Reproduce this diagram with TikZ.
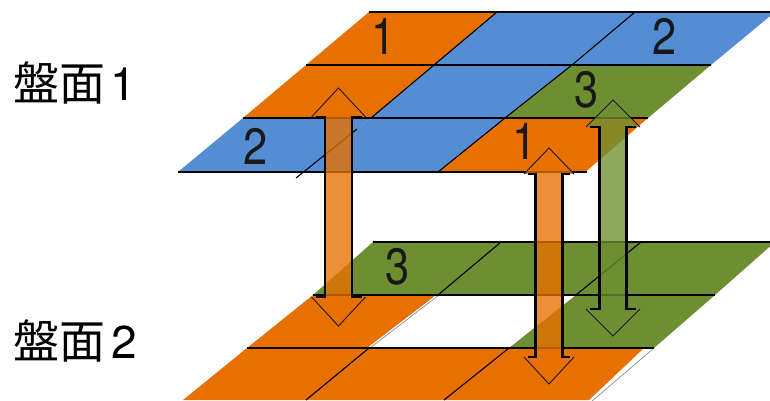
\documentclass[tikz,border=0pt]{standalone}
\usepackage{graphicx}
\usepackage{fontspec}
\setmainfont{TeX Gyre Heros}
\newfontfamily\cjk{Noto Sans CJK JP}
\definecolor{cOrange}{HTML}{E87000}
\definecolor{cBlue}{HTML}{548DD4}
\definecolor{cGreen}{HTML}{6E8F31}
\tikzset{
  cell/.style={fill=#1,draw=none},
  hline/.style={draw=black,line width=1.8pt},
  dline/.style={draw=black,line width=1.1pt},
  eline/.style={draw=black!45,line width=0.7pt},
  num/.style={font=\fontsize{51}{51}\selectfont,inner sep=0pt,text=black!90},
  title/.style={font=\fontsize{46}{46}\selectfont,inner sep=0pt,anchor=base west},
  afill/.style={fill=#1,fill opacity=0.78,draw=none},
  ahead/.style={draw=black!90,line width=0.9pt,line join=miter},
  ashaft/.style={draw=black,line width=2.2pt}
}
\newcommand{\narrowdigit}[1]{\scalebox{0.85}[1]{#1}}
% centre x, half shaft, half head, top tip, top base, bottom base, bottom tip, colour
\newcommand{\twowayarrow}[8]{%
  \path[afill=#8] (#1,#4) -- (#1+#3,#5) -- (#1+#2,#5) -- (#1+#2,#6) -- (#1+#3,#6) -- (#1,#7)
     -- (#1-#3,#6) -- (#1-#2,#6) -- (#1-#2,#5) -- (#1-#3,#5) -- cycle;
  \draw[ahead] (#1-#3,#5) -- (#1,#4) -- (#1+#3,#5);
  \draw[ahead] (#1-#3,#6) -- (#1,#7) -- (#1+#3,#6);
  \draw[ashaft] (#1-#3+4,#5) -- (#1-#2,#5) -- (#1-#2,#6) -- (#1-#3+4,#6);
  \draw[ashaft] (#1+#3-4,#5) -- (#1+#2,#5) -- (#1+#2,#6) -- (#1+#3-4,#6);
}
\begin{document}
\begin{tikzpicture}[x=1pt,y=-1pt]
\useasboundingbox (0,0) rectangle (770,401);
\clip (0,0) rectangle (770,401);
% ---- upper board
\path[cell=cOrange] (369,12) -- (497,12) -- (434,65) -- (306,65) -- cycle;
\path[cell=cBlue] (497,12) -- (635,12) -- (572,65) -- (434,65) -- cycle;
\path[cell=cBlue] (635,12) -- (775,12) -- (711,65) -- (572,65) -- cycle;
\path[cell=cOrange] (306,65) -- (434,65) -- (371,118) -- (243,118) -- cycle;
\path[cell=cBlue] (434,65) -- (572,65) -- (505,118) -- (371,118) -- cycle;
\path[cell=cGreen] (572,65) -- (711,65) -- (648,118) -- (505,118) -- cycle;
\path[cell=cBlue] (243,118) -- (371,118) -- (302,172) -- (178,172) -- cycle;
\path[cell=cBlue] (371,118) -- (505,118) -- (438,172) -- (302,172) -- cycle;
\path[cell=cOrange] (505,118) -- (648,118) -- (590,168) -- (585,172) -- (438,172) -- cycle;
\draw[hline] (369,12) -- (770,12);
\draw[hline] (306,65) -- (711,65);
\draw[hline] (243,118) -- (648,118);
\draw[hline] (178,172) -- (587,172);
\draw[dline] (497,12) -- (434,65) -- (371,118);
\draw[dline] (357,129) -- (296,178);
\draw[dline] (635,12) -- (572,65) -- (505,118) -- (438,172);
% ---- lower board
\path[cell=cGreen] (373,242) -- (501,242) -- (438,295) -- (313,295) -- cycle;
\path[cell=cGreen] (501,242) -- (641,242) -- (576,295) -- (438,295) -- cycle;
\path[cell=cGreen] (641,242) -- (775,242) -- (715,295) -- (576,295) -- cycle;
\path[cell=cOrange] (313,295) -- (436,295) -- (367,348) -- (247,348) -- cycle;
\path[cell=cGreen] (576,295) -- (715,295) -- (654,348) -- (509,348) -- cycle;
\path[cell=cOrange] (247,348) -- (369,348) -- (306,400) -- (183,400) -- cycle;
\path[cell=cOrange] (369,348) -- (509,348) -- (444,400) -- (306,400) -- cycle;
\path[cell=cOrange] (509,348) -- (644,348) -- (589,400) -- (444,400) -- cycle;
\draw[eline] (439,295) -- (370,348);
\draw[eline] (654,348) -- (592,401);
\draw[hline] (373,242) -- (770,242);
\draw[hline] (313,295) -- (715,295);
\draw[hline] (247,348) -- (654,348);
\draw[dline] (501,242) -- (438,295);
\draw[dline] (369,348) -- (306,400);
\draw[dline] (641,242) -- (576,295);
\draw[dline] (509,348) -- (444,400);
% ---- labels
\node[num] (n1a) at (384,36.5) {\narrowdigit{1}};
\node[num] (n2a) at (665,36.5) {\narrowdigit{2}};
\node[num] (n3a) at (587,89.5) {\narrowdigit{3}};
\node[num] (n2b) at (256,146) {\narrowdigit{2}};
\node[num] (n1b) at (525,141) {\narrowdigit{1}};
\node[num] (n3b) at (398,267) {\narrowdigit{3}};
\node[title] (t1) at (13,100.5) {{\cjk 盤面}\kern5pt 1};
\node[title] (t2) at (13,358) {{\cjk 盤面}\kern6pt 2};
% ---- arrows
\twowayarrow{338.5}{13.5}{27}{88}{117}{297}{326}{cOrange}
\twowayarrow{549}{13.5}{25}{148}{174}{357}{384}{cOrange}
\twowayarrow{613}{13.5}{27}{100}{127}{309}{336}{cGreen}
\end{tikzpicture}
\end{document}
